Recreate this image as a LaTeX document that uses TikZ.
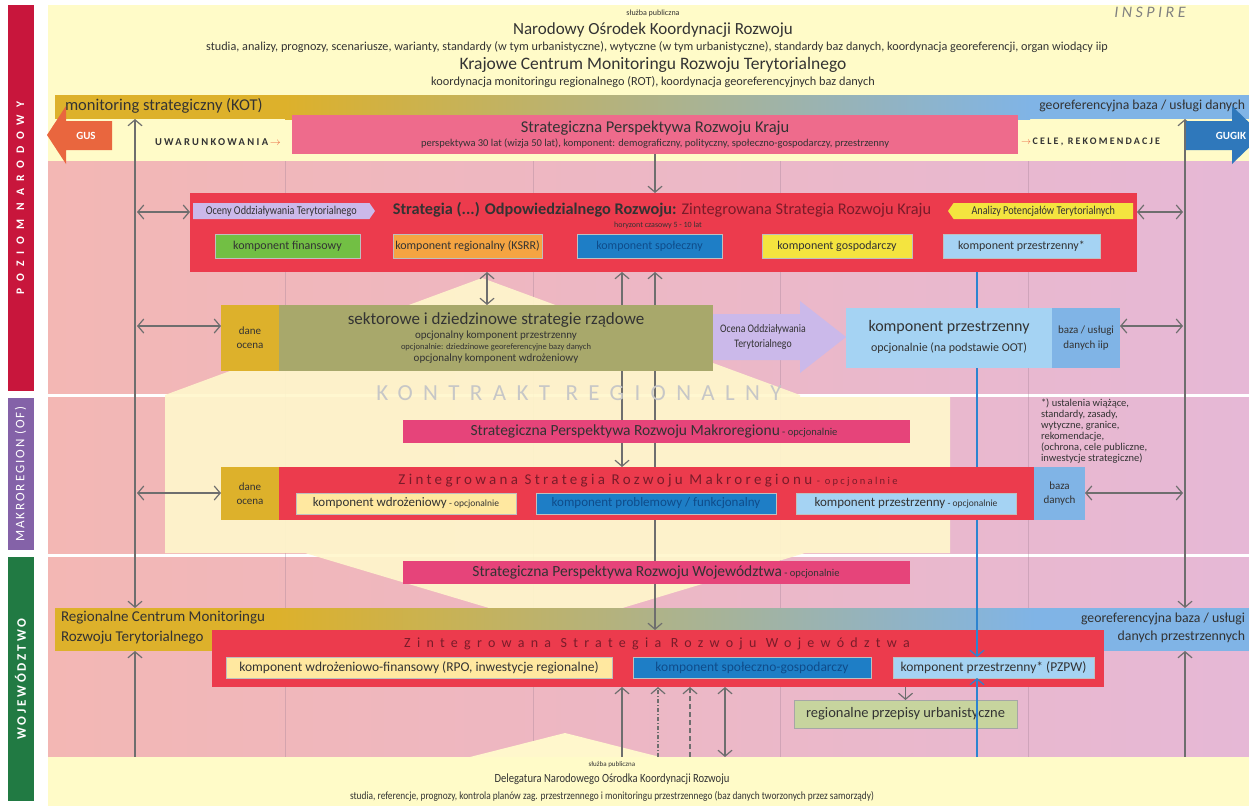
\documentclass[tikz,border=0pt]{standalone}
\usepackage{fontspec}
\setmainfont{Carlito}
\newfontfamily\lsT[LetterSpace=15]{Carlito}
\newfontfamily\lsS[LetterSpace=22]{Carlito}
\newfontfamily\lsK[LetterSpace=45]{Carlito}
\newfontfamily\lsW[LetterSpace=45]{Carlito}
\newfontfamily\lsL[LetterSpace=60]{Carlito}
\newfontfamily\cond[FakeStretch=0.85]{Carlito}
\usetikzlibrary{arrows.meta,shapes.symbols}
\pgfdeclarelayer{back}
\pgfdeclarelayer{mid}
\pgfsetlayers{back,mid,main}
\newcommand{\fs}[2]{\fontsize{#1}{#2}\selectfont}
\newcommand{\blk}[7]{\node[#2, anchor=north west, minimum width={(#5)-(#3)}, minimum height={(#6)-(#4)}] (#1) at (#3,#4) {#7};}
\definecolor{bandred}{HTML}{C8163C}
\definecolor{bandpurple}{HTML}{8462A8}
\definecolor{bandgreen}{HTML}{217A43}
\definecolor{hdr}{HTML}{FFFBC8}
\definecolor{paley}{HTML}{FFF7CC}
\definecolor{pinkL}{HTML}{F3B7B4}
\definecolor{pinkR}{HTML}{E6B8D6}
\definecolor{mainred}{HTML}{EC3B4D}
\definecolor{sppink}{HTML}{E6447A}
\definecolor{spkraj}{HTML}{EE6B8C}
\definecolor{gold}{HTML}{DDB12B}
\definecolor{olive}{HTML}{A8A86B}
\definecolor{lav}{HTML}{CBB9EA}
\definecolor{ltblue}{HTML}{A5D3F3}
\definecolor{midblue}{HTML}{1E7EC6}
\definecolor{spotext}{HTML}{0F4C8A}
\definecolor{bazablue}{HTML}{80B4E6}
\definecolor{compgreen}{HTML}{72BF44}
\definecolor{comporange}{HTML}{F5A442}
\definecolor{compyellow}{HTML}{F4E43F}
\definecolor{compcream}{HTML}{FFE8A0}
\definecolor{urbgreen}{HTML}{C7D49E}
\definecolor{gugik}{HTML}{2F78BB}
\definecolor{gusor}{HTML}{E9663E}
\definecolor{linegray}{HTML}{6E6E6E}
\definecolor{lineblue}{HTML}{2C84D0}
\definecolor{titlered}{HTML}{7A1C2A}
\definecolor{txt}{HTML}{333333}
\begin{document}
\begin{tikzpicture}[x=1pt,y=-1pt,
  every node/.style={text=txt, inner sep=0pt, outer sep=0pt, align=center, font=\fs{10}{12}},
  conn/.style={draw=linegray, line width=1.2pt, -{Straight Barb[length=6pt,width=14pt]}},
  dconn/.style={draw=linegray, line width=1.2pt, {Straight Barb[length=6pt,width=14pt]}-{Straight Barb[length=6pt,width=14pt]}},
  bconn/.style={draw=lineblue, line width=1.2pt},
  comp/.style={draw=black!25, line width=0.5pt, font=\fs{12}{13}},
  tag/.style={signal, signal pointer angle=110, minimum height=16, font=\cond\fs{12}{12}},
]
\useasboundingbox (0,0) rectangle (1249,808);

% ---------------- backgrounds
\begin{pgfonlayer}{back}
\fill[white] (0,0) rectangle (1249,808);
\fill[hdr] (48,5) rectangle (1249,161);
\shade[left color=pinkL, right color=pinkR] (48,161) rectangle (1249,393);
\shade[left color=pinkL, right color=pinkR] (48,397) rectangle (1249,553);
\shade[left color=pinkL, right color=pinkR] (48,557) rectangle (1249,757);
\foreach \gx in {285,533,780,1028} \draw[pinkR!70!black, line width=0.5pt, opacity=0.35] (\gx,161) -- (\gx,757);
\fill[paley, opacity=0.92] (165,395) -- (482,278) -- (800,395) -- (800,397) -- (950,397) -- (950,553) -- (805,553) -- (556,628) -- (305,553) -- (165,553) -- cycle;
\fill[paley] (470,757) -- (565,733) -- (660,757) -- cycle;
\shade[left color=gold, middle color=spkraj!55!white, right color=bazablue] (285,95) rectangle (1030,119);
\shade[left color=gold, middle color=spkraj!55!white, right color=bazablue] (275,608) rectangle (1035,633);
\end{pgfonlayer}

% ---------------- level bands
\node[rotate=90, fill=bandred, minimum width=386, minimum height=26, text=white, font=\lsL\bfseries\fs{11.5}{12}] (bandn) at (20.5,198) {POZIOM NARODOWY};
\node[rotate=90, fill=bandpurple, minimum width=152, minimum height=26, text=white, font=\lsT\fs{13}{13}] (bandm) at (20.5,474) {MAKROREGION (OF)};
\node[rotate=90, fill=bandgreen, minimum width=244, minimum height=26, text=white, font=\lsS\bfseries\fs{13}{13}] (bandw) at (20.5,679) {WOJEWÓDZTWO};

% ---------------- header
\node[font=\fs{8}{9}] (hsp) at (653,13) {służba publiczna};
\node[font=\fs{17}{18}] (hnokr) at (653,30) {Narodowy Ośrodek Koordynacji Rozwoju};
\node[font=\fs{12.2}{13}] (hstud) at (657,47) {studia, analizy, prognozy, scenariusze, warianty, standardy (w tym urbanistyczne), wytyczne (w tym urbanistyczne), standardy baz danych, koordynacja georeferencji, organ wiodący iip};
\node[font=\fs{17.5}{18}] (hkcm) at (653,65) {Krajowe Centrum Monitoringu Rozwoju Terytorialnego};
\node[font=\fs{12.3}{13}] (hkoord) at (653,82) {koordynacja monitoringu regionalnego (ROT), koordynacja georeferencyjnych baz danych};
\node[font=\lsS\itshape\fs{16}{16}, text=black!50] (insp) at (1150,12) {INSPIRE};

% ---------------- row 2
\blk{kot}{fill=gold}{55}{95}{285}{119}{}
\node[anchor=west, font=\fs{16.5}{17}] (kott) at (65,106) {monitoring strategiczny (KOT)};
\blk{geo1}{fill=bazablue}{1030}{95}{1249}{119}{}
\node[anchor=east, font=\fs{13.7}{14}] (geo1t) at (1245,106) {georeferencyjna baza / usługi danych};
\fill[gusor] (47,135) -- (66,106) -- (66,121) -- (112,121) -- (112,150) -- (66,150) -- (66,164) -- cycle;
\node[font=\bfseries\fs{11}{12}, text=white] (gus) at (86,136) {GUS};
\fill[gugik] (1186,121) -- (1232,121) -- (1232,106) -- (1262,135) -- (1232,164) -- (1232,150) -- (1186,150) -- cycle;
\node[font=\bfseries\fs{11}{12}, text=white] (gugik) at (1231,136) {GUGIK};
\node[anchor=west, font=\lsS\bfseries\fs{10.5}{11}] (uwar) at (155,142) {UWARUNKOWANIA\,{\color{gusor}$\rightarrow$}};
\blk{spk}{fill=spkraj}{292}{115}{1018}{154}{}
\node[font=\fs{16.5}{17}] (spkt) at (655,128) {Strategiczna Perspektywa Rozwoju Kraju};
\node[font=\fs{10.5}{11}] (spks) at (655,144) {perspektywa 30 lat (wizja 50 lat), komponent: demograficzny, polityczny, społeczno-gospodarczy, przestrzenny};
\node[anchor=west, font=\lsS\bfseries\fs{10}{11}] (cele) at (1021,142) {{\color{gusor}$\rightarrow$}\,CELE, REKOMENDACJE};

% ---------------- national strategy
\blk{zsrk}{fill=mainred}{190}{193}{1137}{272}{}
\node[tag, signal to=east, fill=lav, minimum width=182, anchor=west] (ootk) at (193,211) {Oceny Oddziaływania Terytorialnego};
\node[tag, signal to=west, fill=compyellow, minimum width=185, anchor=east] (apt) at (1133,211) {Analizy Potencjałów Terytorialnych};
\node[font=\fs{16.3}{17}] (zsrkt) at (662,210) {\textbf{Strategia (...) Odpowiedzialnego Rozwoju:} {\color{titlered}Zintegrowana Strategia Rozwoju Kraju}};
\node[font=\fs{8}{9}] (hor) at (658,225) {horyzont czasowy 5 - 10 lat};
\blk{kfin}{comp, fill=compgreen}{215}{234}{360}{258}{komponent finansowy}
\blk{kreg}{comp, fill=comporange}{393}{234}{542}{258}{komponent regionalny (KSRR)}
\blk{kspo}{comp, fill=midblue, text=spotext}{577}{234}{722}{258}{komponent społeczny}
\blk{kgos}{comp, fill=compyellow}{762}{234}{912}{258}{komponent gospodarczy}
\blk{kprz}{comp, fill=ltblue}{943}{234}{1100}{258}{komponent przestrzenny*}

% ---------------- sector row
\blk{danes}{fill=gold, font=\fs{11}{14}}{221}{305}{279}{371}{dane\\ocena}
\blk{sec}{fill=olive}{279}{305}{713}{371}{}
\node[font=\fs{17}{18}] (sect) at (496,320) {sektorowe i dziedzinowe strategie rządowe};
\node[font=\fs{11}{12}] (sec1) at (496,336) {opcjonalny komponent przestrzenny};
\node[font=\fs{8.5}{9}] (sec2) at (496,347) {opcjonalnie: dziedzinowe georeferencyjne bazy danych};
\node[font=\fs{11}{12}] (sec3) at (496,359) {opcjonalny komponent wdrożeniowy};
\fill[lav] (713,314) -- (800,314) -- (800,301) -- (846,337) -- (800,373) -- (800,360) -- (713,360) -- cycle;
\node[font=\cond\fs{11.5}{15}] (oots) at (763,337) {Ocena Oddziaływania\\Terytorialnego};
\blk{kprs}{fill=ltblue}{846}{308}{1052}{368}{}
\node[font=\fs{16}{17}] (kprst) at (949,327) {komponent przestrzenny};
\node[font=\fs{12}{13}] (kprss) at (949,348) {opcjonalnie (na podstawie OOT)};
\blk{bazas}{fill=bazablue, font=\fs{11}{15}}{1052}{308}{1120}{368}{baza / usługi\\danych iip}

\node[font=\lsK\fs{23}{23}, text=black!22] (kontr) at (579,393) {KONTRAKT REGIONALNY};
\node[anchor=north west, align=left, font=\fs{10.5}{11}] (foot) at (1041,399) {*) ustalenia wiążące,\\standardy, zasady,\\wytyczne, granice,\\rekomendacje,\\(ochrona, cele publiczne,\\inwestycje strategiczne)};

% ---------------- macroregion
\blk{spmak}{fill=sppink}{403}{420}{910}{443}{}
\node[font=\fs{15.5}{16}] (spmakt) at (654,431) {Strategiczna Perspektywa Rozwoju Makroregionu{\fs{10.5}{11} - opcjonalnie}};
\blk{danem}{fill=gold, font=\fs{11}{14}}{221}{467}{279}{520}{dane\\ocena}
\blk{zsrm}{fill=mainred}{279}{467}{1034}{520}{}
\blk{bazam}{fill=bazablue, font=\fs{11}{14}}{1034}{467}{1085}{520}{baza\\danych}
\node[font=\lsS\fs{15}{16}, text=titlered] (zsrmt) at (648,481) {Zintegrowana Strategia Rozwoju Makroregionu{\fs{10.5}{11} - opcjonalnie}};
\blk{kwdm}{comp, fill=compcream, font=\fs{13}{14}}{296}{493}{516}{514}{komponent wdrożeniowy{\fs{9.5}{10} - opcjonalnie}}
\blk{kprob}{comp, fill=midblue, text=spotext, font=\fs{13}{14}}{536}{493}{776}{514}{komponent problemowy / funkcjonalny}
\blk{kprzm}{comp, fill=ltblue, font=\fs{13}{14}}{796}{493}{1016}{514}{komponent przestrzenny{\fs{9.5}{10} - opcjonalnie}}

% ---------------- voivodeship
\blk{spwoj}{fill=sppink}{403}{561}{910}{584}{}
\node[font=\fs{15.5}{16}] (spwojt) at (656,572) {Strategiczna Perspektywa Rozwoju Województwa{\fs{10.5}{11} - opcjonalnie}};
\blk{rcm}{fill=gold}{55}{608}{275}{651}{}
\node[anchor=west, align=left, font=\fs{15}{20}] (rcmt) at (61,628) {Regionalne Centrum Monitoringu\\Rozwoju Terytorialnego};
\blk{geo2}{fill=bazablue}{1035}{608}{1249}{651}{}
\node[anchor=east, align=right, font=\fs{13.8}{18}] (geo2t) at (1245,628) {georeferencyjna baza / usługi\\danych przestrzennych};
\blk{zsrw}{fill=mainred}{212}{630}{1104}{687}{}
\node[font=\lsW\fs{14}{15}, text=titlered] (zsrwt) at (657,644) {Zintegrowana Strategia Rozwoju Województwa};
\blk{kwf}{comp, fill=compcream, font=\fs{13.5}{14}}{226}{657}{612}{678}{komponent wdrożeniowo-finansowy (RPO, inwestycje regionalne)}
\blk{ksg}{comp, fill=midblue, text=spotext, font=\fs{13.5}{14}}{633}{657}{871}{678}{komponent społeczno-gospodarczy}
\blk{pzpw}{comp, fill=ltblue, font=\fs{13.5}{14}}{893}{657}{1094}{678}{komponent przestrzenny* (PZPW)}
\blk{urb}{draw=black!35, fill=urbgreen, font=\fs{14.5}{15}}{794}{700}{1017}{728}{regionalne przepisy urbanistyczne}

% ---------------- bottom
\blk{bot}{fill=hdr}{48}{757}{1249}{806}{}
\node[font=\fs{7}{8}] (bsp) at (612,765) {służba publiczna};
\node[font=\cond\fs{12.5}{14}] (bdel) at (612,779) {Delegatura Narodowego Ośrodka Koordynacji Rozwoju};
\node[font=\cond\fs{11}{12}] (bstud) at (612,796) {studia, referencje, prognozy, kontrola planów zag. przestrzennego i monitoringu przestrzennego (baz danych tworzonych przez samorządy)};

% ---------------- helper coordinates
\coordinate (LX) at (135,0);
\coordinate (RX) at (1185,0);
\coordinate (BX) at (977,0);
\coordinate (X487) at (487,0);
\coordinate (X622) at (622,0);
\coordinate (X655) at (655,0);
\coordinate (X658) at (658,0);
\coordinate (X690) at (690,0);
\coordinate (X725) at (725,0);
\coordinate (aL1) at (137,212);
\coordinate (aR1) at (1183,212);
\coordinate (aL2) at (137,326);
\coordinate (aR2) at (1183,326);
\coordinate (aL3) at (137,493);
\coordinate (aR3) at (1183,493);

% ---------------- connectors (behind boxes)
\begin{pgfonlayer}{mid}
\draw[dconn] (LX |- kot.south) -- (LX |- rcm.north);
\draw[conn] (LX |- bot.north) -- (LX |- rcm.south);
\draw[dconn] (RX |- geo1.south) -- (RX |- geo2.north);
\draw[conn] (RX |- bot.north) -- (RX |- geo2.south);
\draw[conn] (spk.south) -- (spk.south |- zsrk.north);
\draw[dconn] (aL1) -- (aL1 -| zsrk.west);
\draw[dconn] (aR1 -| zsrk.east) -- (aR1);
\draw[dconn] (aL2) -- (aL2 -| danes.west);
\draw[dconn] (aR2 -| bazas.east) -- (aR2);
\draw[dconn] (aL3) -- (aL3 -| danem.west);
\draw[dconn] (aR3 -| bazam.east) -- (aR3);
\draw[dconn] (X487 |- zsrk.south) -- (X487 |- sec.north);
\draw[conn] (X622 |- spmak.north) -- (X622 |- zsrk.south);
\draw[dconn] (X655 |- zsrw.north) -- (X655 |- zsrk.south);
\draw[conn] (X622 |- spmak.south) -- (X622 |- zsrm.north);
\draw[conn] (X622 |- bot.north) -- (X622 |- zsrw.south);
\draw[conn, dash pattern=on 4pt off 2pt on 1pt off 2pt] (X658 |- bot.north) -- (X658 |- zsrw.south);
\draw[conn, dash pattern=on 5pt off 3pt] (X690 |- bot.north) -- (X690 |- zsrw.south);
\draw[dconn] (X725 |- bot.north) -- (X725 |- zsrw.south);
\draw[conn] (urb.north |- pzpw.south) -- (urb.north);
\draw[bconn, {Straight Barb[length=6pt,width=14pt]}-] (BX |- kprz.south) -- (BX |- zsrw.north);
\end{pgfonlayer}
% blue links over the voivodeship strategy box
\draw[bconn, -{Straight Barb[length=6pt,width=14pt]}] (BX |- zsrw.north) -- (BX |- pzpw.north);
\draw[bconn, -{Straight Barb[length=6pt,width=14pt]}] (BX |- bot.north) -- (BX |- pzpw.south);
\end{tikzpicture}
\end{document}
